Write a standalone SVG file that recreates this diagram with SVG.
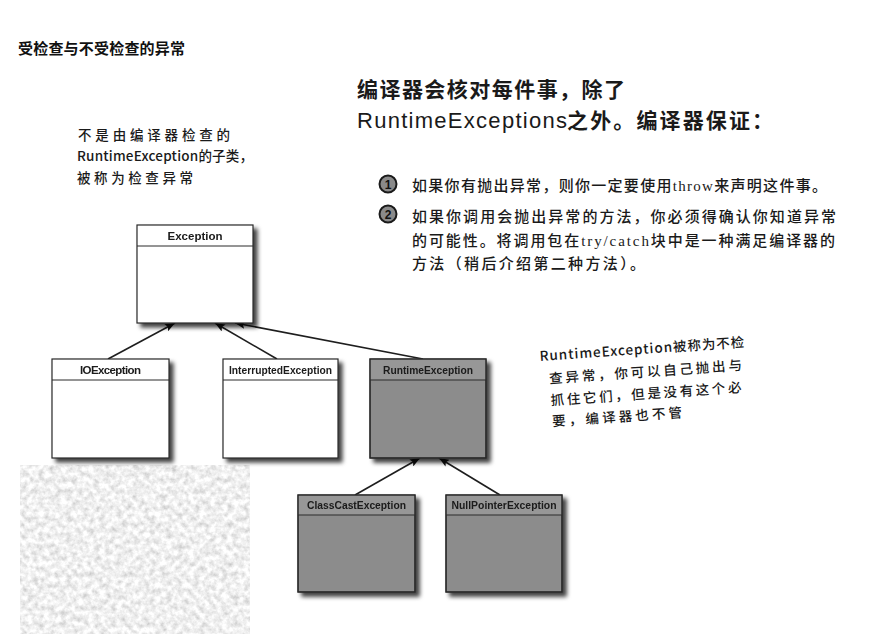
<svg xmlns="http://www.w3.org/2000/svg" width="883" height="634" viewBox="0 0 883 634">
  <style>
    .title { font-family: "Noto Sans CJK SC", "Liberation Sans", sans-serif; font-weight: 700; font-size: 15px; fill: #111; }
    .head { font-family: "Noto Sans CJK SC", "Liberation Sans", sans-serif; font-weight: 700; font-size: 21px; fill: #1a1a1a; }
    .headlat { font-family: "Liberation Sans", "Noto Sans CJK SC", sans-serif; font-weight: 400; font-size: 22px; fill: #1a1a1a; }
    .item { font-family: "Liberation Serif", "Noto Sans CJK SC", serif; font-size: 15px; font-weight: 500; fill: #1a1a1a; }
    .hand { font-family: "Noto Sans CJK SC", "Liberation Sans", sans-serif; font-size: 13.5px; font-weight: 500; fill: #1a1a1a; }
    .num { font-family: "Liberation Sans", sans-serif; font-weight: 700; font-size: 12px; fill: #111; text-anchor: middle; }
    .box { stroke: #2a2a2a; stroke-width: 1.2; }
    .plain { fill: #ffffff; }
    .shade { fill: #8c8c8c; }
    .shadehead { fill: #979797; }
    .sep { stroke: #2a2a2a; stroke-width: 1; }
    .label { font-family: "Liberation Sans", Arial, sans-serif; font-weight: 700; font-size: 11.5px; fill: #1a1a1a; text-anchor: middle; }
    .edge { stroke: #1e1e1e; stroke-width: 1.6; fill: none; marker-end: url(#tip); }
  </style>
  <defs>
    <filter id="shadow" x="-10%" y="-10%" width="130%" height="130%">
      <feDropShadow dx="4" dy="4" stdDeviation="2.2" flood-color="#000" flood-opacity="0.75"/>
    </filter>
    <filter id="grain" x="0" y="0" width="100%" height="100%">
      <feTurbulence type="fractalNoise" baseFrequency="0.18" numOctaves="3" seed="7" result="n"/>
      <feColorMatrix in="n" type="matrix" values="0.7 0 0 0 0.52  0.7 0 0 0 0.52  0.7 0 0 0 0.52  0 0 0 0 1" result="g"/>
      <feComposite in="g" in2="SourceGraphic" operator="in"/>
    </filter>
    <marker id="tip" markerUnits="userSpaceOnUse" markerWidth="10" markerHeight="8" refX="10" refY="4" orient="auto">
      <path d="M0,0 L10,4 L0,8 L2,4 z" fill="#111"/>
    </marker>
  </defs>

  <rect width="883" height="634" fill="#ffffff"/>

  <!-- grainy grey patch, bottom left -->
  <rect x="20" y="465" width="230" height="169" fill="#e0e0e0" filter="url(#grain)"/>

  <!-- page title -->
  <text class="title" x="18" y="54" textLength="167">受检查与不受检查的异常</text>

  <!-- heading -->
  <g id="heading">
    <text class="head" x="357" y="97" textLength="268">编译器会核对每件事，除了</text>
    <text class="headlat" x="357" y="128" textLength="210">RuntimeExceptions</text>
    <text class="head" x="567" y="128" textLength="206">之外。编译器保证：</text>
  </g>

  <!-- numbered points -->
  <g id="point1">
    <circle cx="388" cy="184" r="8.5" fill="#8a8a8a" stroke="#1a1a1a" stroke-width="2"/>
    <text class="num" x="388" y="188.5">1</text>
    <text class="item" x="412" y="191" textLength="415">如果你有抛出异常，则你一定要使用throw来声明这件事。</text>
  </g>
  <g id="point2">
    <circle cx="388" cy="214" r="8.5" fill="#8a8a8a" stroke="#1a1a1a" stroke-width="2"/>
    <text class="num" x="388" y="218.5">2</text>
    <text class="item" x="412" y="222" textLength="424">如果你调用会抛出异常的方法，你必须得确认你知道异常</text>
    <text class="item" x="412" y="246" textLength="423">的可能性。将调用包在try/catch块中是一种满足编译器的</text>
    <text class="item" x="412" y="269" textLength="233">方法（稍后介绍第二种方法）。</text>
  </g>

  <!-- handwritten notes -->
  <g id="note-checked">
    <text class="hand" x="78" y="140" textLength="152">不是由编译器检查的</text>
    <text class="hand" x="77" y="161" textLength="176">RuntimeException的子类，</text>
    <text class="hand" x="77" y="183" textLength="116">被称为检查异常</text>
  </g>
  <g id="note-unchecked" transform="rotate(-4 540 361)">
    <text class="hand" x="540" y="361" textLength="205">RuntimeException被称为不检</text>
    <text class="hand" x="548" y="384" textLength="193">查异常，你可以自己抛出与</text>
    <text class="hand" x="548" y="406" textLength="191">抓住它们，但是没有这个必</text>
    <text class="hand" x="548" y="427" textLength="130">要，编译器也不管</text>
  </g>

  <!-- connectors -->
  <g id="connectors">
    <line class="edge" x1="108" y1="359" x2="175" y2="323"/>
    <line class="edge" x1="277" y1="359" x2="215" y2="323"/>
    <line class="edge" x1="423" y1="359" x2="235" y2="323"/>
    <line class="edge" x1="355" y1="495" x2="420" y2="458"/>
    <line class="edge" x1="500" y1="495" x2="439" y2="458"/>
  </g>

  <!-- class boxes -->
  <g id="exception" filter="url(#shadow)">
    <rect class="box plain" x="137" y="225" width="116" height="98"/>
    <line class="sep" x1="137" y1="246" x2="253" y2="246"/>
    <text class="label" x="195" y="240" textLength="55">Exception</text>
  </g>
  <g id="ioexception" filter="url(#shadow)">
    <rect class="box plain" x="52" y="359" width="117" height="99"/>
    <line class="sep" x1="52" y1="380" x2="169" y2="380"/>
    <text class="label" x="110.5" y="374" textLength="61">IOException</text>
  </g>
  <g id="interruptedexception" filter="url(#shadow)">
    <rect class="box plain" x="223" y="359" width="115" height="99"/>
    <line class="sep" x1="223" y1="380" x2="338" y2="380"/>
    <text class="label" x="280.5" y="374" textLength="103" lengthAdjust="spacingAndGlyphs">InterruptedException</text>
  </g>
  <g id="runtimeexception" filter="url(#shadow)">
    <rect class="box shade" x="370" y="359" width="116" height="99"/>
    <rect class="shadehead" x="370.6" y="359.6" width="114.8" height="20.4"/>
    <line class="sep" x1="370" y1="380" x2="486" y2="380"/>
    <rect x="370" y="359" width="116" height="99" fill="none" class="box"/>
    <text class="label" x="428" y="374" textLength="90" lengthAdjust="spacingAndGlyphs">RuntimeException</text>
  </g>
  <g id="classcastexception" filter="url(#shadow)">
    <rect class="box shade" x="298" y="495" width="117" height="97"/>
    <rect class="shadehead" x="298.6" y="495.6" width="115.8" height="19.4"/>
    <line class="sep" x1="298" y1="515" x2="415" y2="515"/>
    <rect x="298" y="495" width="117" height="97" fill="none" class="box"/>
    <text class="label" x="356.5" y="509" textLength="99" lengthAdjust="spacingAndGlyphs">ClassCastException</text>
  </g>
  <g id="nullpointerexception" filter="url(#shadow)">
    <rect class="box shade" x="446" y="495" width="116" height="97"/>
    <rect class="shadehead" x="446.6" y="495.6" width="114.8" height="19.4"/>
    <line class="sep" x1="446" y1="515" x2="562" y2="515"/>
    <rect x="446" y="495" width="116" height="97" fill="none" class="box"/>
    <text class="label" x="504" y="509" textLength="105" lengthAdjust="spacingAndGlyphs">NullPointerException</text>
  </g>
</svg>
